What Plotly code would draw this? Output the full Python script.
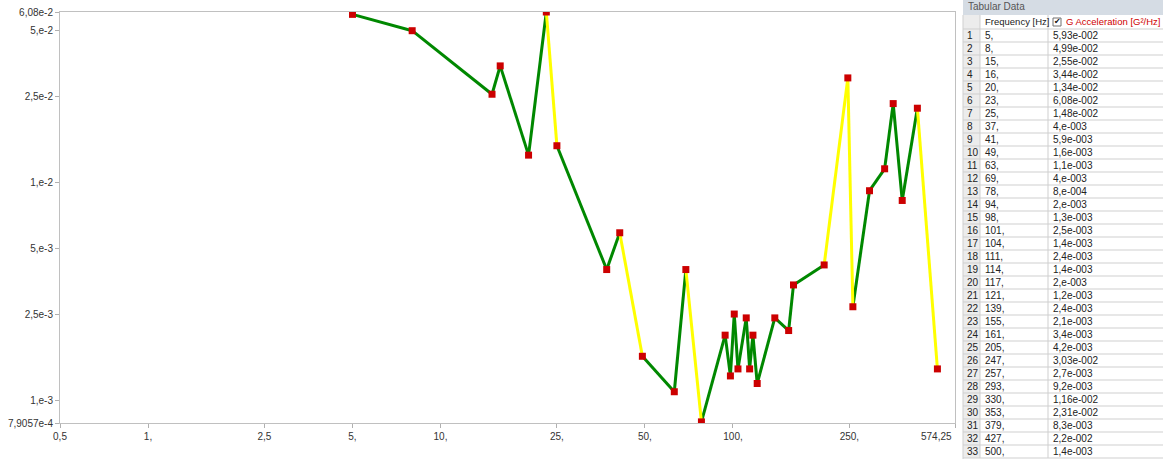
import plotly.graph_objects as go

freq = [5, 8, 15, 16, 20, 23, 25, 37, 41, 49, 63, 69, 78, 94, 98, 101, 104,
        111, 114, 117, 121, 139, 155, 161, 205, 247, 257, 293, 330, 353, 379, 427, 500]
accel = [5.93e-2, 4.99e-2, 2.55e-2, 3.44e-2, 1.34e-2, 6.08e-2, 1.48e-2, 4e-3, 5.9e-3,
         1.6e-3, 1.1e-3, 4e-3, 8e-4, 2e-3, 1.3e-3, 2.5e-3, 1.4e-3, 2.4e-3, 1.4e-3,
         2e-3, 1.2e-3, 2.4e-3, 2.1e-3, 3.4e-3, 4.2e-3, 3.03e-2, 2.7e-3, 9.2e-3,
         1.16e-2, 2.31e-2, 8.3e-3, 2.2e-2, 1.4e-3]
freq_text = ["5,", "8,", "15,", "16,", "20,", "23,", "25,", "37,", "41,", "49,", "63,",
             "69,", "78,", "94,", "98,", "101,", "104,", "111,", "114,", "117,", "121,",
             "139,", "155,", "161,", "205,", "247,", "257,", "293,", "330,", "353,",
             "379,", "427,", "500,"]
accel_text = ["5,93e-002", "4,99e-002", "2,55e-002", "3,44e-002", "1,34e-002",
              "6,08e-002", "1,48e-002", "4,e-003", "5,9e-003", "1,6e-003", "1,1e-003",
              "4,e-003", "8,e-004", "2,e-003", "1,3e-003", "2,5e-003", "1,4e-003",
              "2,4e-003", "1,4e-003", "2,e-003", "1,2e-003", "2,4e-003", "2,1e-003",
              "3,4e-003", "4,2e-003", "3,03e-002", "2,7e-003", "9,2e-003", "1,16e-002",
              "2,31e-002", "8,3e-003", "2,2e-002", "1,4e-003"]
# segments drawn in yellow (index of the segment's start point)
flagged = [5, 8, 11, 24, 25, 31]

x_ticks = [0.5, 1, 2.5, 5, 10, 25, 50, 100, 250, 574.25]
x_ticktext = ["0,5", "1,", "2,5", "5,", "10,", "25,", "50,", "100,", "250,", ""]
y_ticks = [7.9057e-4, 1e-3, 2.5e-3, 5e-3, 1e-2, 2.5e-2, 5e-2, 6.08e-2]
y_ticktext = ["7,9057e-4", "1,e-3", "2,5e-3", "5,e-3", "1,e-2", "2,5e-2", "5,e-2", "6,08e-2"]

W, H = 1163, 459
font = dict(family="Liberation Sans", size=10, color="#333333")
tfont = dict(family="Liberation Sans", size=10, color="#222222")
hfont = dict(family="Liberation Sans", size=9.5, color="#222222")


def px(x):
    return x / W


def py(y):
    return 1 - y / H


gx, gy, yx, yy = [], [], [], []
for i in range(len(freq) - 1):
    if i in flagged:
        yx += [freq[i], freq[i + 1], None]
        yy += [accel[i], accel[i + 1], None]
    else:
        gx += [freq[i], freq[i + 1], None]
        gy += [accel[i], accel[i + 1], None]

fig = go.Figure()
fig.add_trace(go.Scatter(x=gx, y=gy, mode="lines",
                         line=dict(color="#008800", width=3), showlegend=False))
fig.add_trace(go.Scatter(x=yx, y=yy, mode="lines",
                         line=dict(color="#ffff00", width=3), showlegend=False))
fig.add_trace(go.Scatter(x=freq, y=accel, mode="markers",
                         marker=dict(symbol="square", size=7, color="#cc0000",
                                     line=dict(width=0)), showlegend=False))

# tabular data panel
t_left, c1, c2, t_right = 963, 980, 1048, 1163
head_top, rows_top, row_h = 15, 29, 13
n = len(freq)
rows_bottom = rows_top + n * row_h

fig.add_shape(type="rect", xref="paper", yref="paper", x0=px(t_left), x1=1, y0=py(head_top), y1=1,
              fillcolor="#d5dce4", line=dict(width=0))
fig.add_annotation(xref="paper", yref="paper", x=px(t_left + 3), y=py(7), text="Tabular Data",
                   showarrow=False, xanchor="left", yanchor="middle",
                   font=dict(family="Liberation Sans", size=10, color="#555555"))
fig.add_shape(type="rect", xref="paper", yref="paper", x0=px(t_left), x1=px(c1),
              y0=py(rows_bottom), y1=py(head_top), fillcolor="#ececec", line=dict(width=0))
for k in range(n + 1):
    yl = rows_top + k * row_h
    fig.add_shape(type="line", xref="paper", yref="paper", x0=px(t_left), x1=1,
                  y0=py(yl), y1=py(yl), line=dict(color="#cfcfcf", width=1))
for xv in [c1, c2]:
    fig.add_shape(type="line", xref="paper", yref="paper", x0=px(xv), x1=px(xv),
                  y0=py(rows_bottom), y1=py(head_top), line=dict(color="#cfcfcf", width=1))
fig.add_shape(type="line", xref="paper", yref="paper", x0=px(t_left), x1=px(t_left),
              y0=0, y1=py(head_top), line=dict(color="#cfcfcf", width=1))

hy = py((head_top + rows_top) / 2)
fig.add_annotation(xref="paper", yref="paper", x=px(c1 + 3), y=hy, text="Frequency [Hz]",
                   showarrow=False, xanchor="left", yanchor="middle", font=hfont)
fig.add_shape(type="rect", xref="paper", yref="paper", x0=px(c2 + 5), x1=px(c2 + 13),
              y0=py(26), y1=py(18), fillcolor="white", line=dict(color="#707070", width=1))
fig.add_annotation(xref="paper", yref="paper", x=px(c2 + 9), y=hy, text="\u2714",
                   showarrow=False, xanchor="center", yanchor="middle",
                   font=dict(family="DejaVu Sans", size=8, color="#111111"))
fig.add_annotation(xref="paper", yref="paper", x=px(c2 + 16), y=hy,
                   text="G Acceleration [G\u00b2/Hz]",
                   showarrow=False, xanchor="left", yanchor="middle",
                   font=dict(family="Liberation Sans", size=9.5, color="#d00000"))
for k in range(n):
    ry = py(rows_top + k * row_h + row_h / 2)
    fig.add_annotation(xref="paper", yref="paper", x=px(t_left + 2), y=ry, text=str(k + 1),
                       showarrow=False, xanchor="left", yanchor="middle", font=tfont)
    fig.add_annotation(xref="paper", yref="paper", x=px(c1 + 3), y=ry, text=freq_text[k],
                       showarrow=False, xanchor="left", yanchor="middle", font=tfont)
    fig.add_annotation(xref="paper", yref="paper", x=px(c2 + 3), y=ry, text=accel_text[k],
                       showarrow=False, xanchor="left", yanchor="middle", font=tfont)

fig.add_annotation(xref="paper", yref="paper", x=px(954), y=py(436), text="574,25",
                   showarrow=False, xanchor="right", yanchor="middle", font=font)

fig.update_layout(
    width=W, height=H,
    margin=dict(l=0, r=0, t=0, b=0),
    paper_bgcolor="white", plot_bgcolor="white",
    font=font,
    xaxis=dict(type="log", domain=[px(60), px(955)], range=[-0.30103, 2.75910],
               tickvals=x_ticks, ticktext=x_ticktext, ticks="outside", ticklen=4,
               tickcolor="#b0b0b0", showline=True, linecolor="#c0c0c0", mirror=True,
               showgrid=False, zeroline=False, automargin=False),
    yaxis=dict(type="log", domain=[py(423), py(12)], range=[-3.10206, -1.21610],
               tickvals=y_ticks, ticktext=y_ticktext, ticks="outside", ticklen=4,
               tickcolor="#b0b0b0", showline=True, linecolor="#c0c0c0", mirror=True,
               showgrid=False, zeroline=False, automargin=False),
)

fig.write_html("out.html", config={"displayModeBar": False},
               post_script="document.body.style.margin='0';")
